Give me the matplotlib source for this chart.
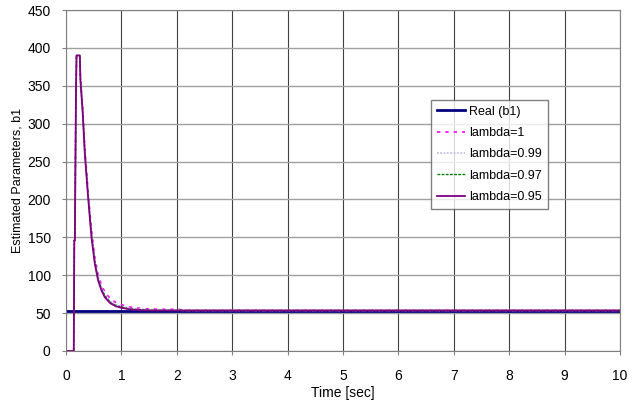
import matplotlib
matplotlib.use("Agg")
from matplotlib import pyplot as plt

# time samples [sec]
t = [0, 0.14, 0.15, 0.16, 0.17, 0.18, 0.19, 0.25, 0.26, 0.30, 0.34, 0.40,
     0.46, 0.52, 0.58, 0.64, 0.70, 0.80, 0.90, 1.00, 1.15, 1.30, 1.50,
     1.75, 2.00, 2.05, 2.10, 10]

real_b1 = 53
lam_100 = [0, 0, 146, 146, 245, 340, 390, 390, 362, 322, 268, 210, 160,
           124, 101, 87, 78, 69, 64, 61, 58, 56.5, 55.5, 55, 55, 55, 53.5, 53.5]
lam_099 = [0, 0, 146, 146, 245, 340, 390, 390, 360, 320, 265, 207, 156,
           121, 98, 84, 75, 66, 61, 59, 56.5, 55.5, 54.5, 54, 54, 54, 53.5, 53.5]
lam_097 = [0, 0, 146, 146, 245, 340, 390, 390, 359, 318, 262, 204, 153,
           118, 95, 82, 73, 64, 60, 58, 55.5, 54.5, 54, 53.5, 53.5, 53.5, 53.5, 53.5]
lam_095 = [0, 0, 146, 146, 245, 340, 390, 390, 358, 316, 260, 202, 150,
           115, 93, 80, 71, 63, 59, 57, 55, 54, 53.5, 53.5, 53.5, 53.5, 53.5, 53.5]

plt.rcParams['font.family'] = ['Liberation Sans', 'DejaVu Sans']

fig = plt.figure(figsize=(6.33, 4.05), dpi=100)
ax = fig.add_axes([66 / 633, 1 - 351 / 405, 554 / 633, 341 / 405])

ax.plot([0, 10], [real_b1, real_b1], color='#000080', lw=2, label='Real (b1)')
ax.plot(t, lam_100, color='#ff00ff', lw=1.2, ls=(0, (2, 3)), label='lambda=1')
ax.plot(t, lam_099, color='#b8b8dc', lw=1.2, ls=(0, (1, 1)), label='lambda=0.99')
ax.plot(t, lam_097, color='#008000', lw=1, ls=(0, (2, 1)), label='lambda=0.97')
ax.plot(t, lam_095, color='#800080', lw=1.3, label='lambda=0.95')

ax.set_xlim(0, 10)
ax.set_ylim(0, 450)
ax.set_xticks(range(0, 11))
ax.set_yticks(range(0, 451, 50))
ax.grid(axis='y', color='#a0a0a0', lw=1)
ax.grid(axis='x', color='#404040', lw=0.8)
ax.set_axisbelow(True)
for s in ax.spines.values():
    s.set_color('#808080')
ax.tick_params(length=3, color='#808080', labelsize=10)
ax.tick_params(axis='x', pad=10)
ax.tick_params(axis='y', pad=8)

ax.set_xlabel('Time [sec]', fontsize=10)
ax.xaxis.set_label_coords(0.5, -(386 - 351) / 341)
ax.set_ylabel('Estimated Parameters, b1', fontsize=9)
ax.yaxis.set_label_coords((24 - 66) / 554, 0.5)

leg = ax.legend(loc='upper left', bbox_to_anchor=(365 / 554, 1 - 90 / 341),
                fontsize=9, frameon=True, fancybox=False, borderpad=0.45,
                labelspacing=0.75, handlelength=2.3, handletextpad=0.3,
                borderaxespad=0)
leg.get_frame().set_edgecolor('#606060')
leg.get_frame().set_linewidth(1)

fig.savefig('out.png', dpi=100)
